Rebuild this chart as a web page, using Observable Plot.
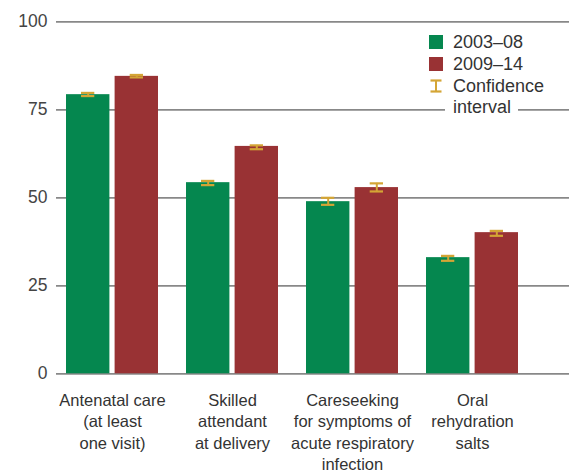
<!DOCTYPE html>
<html>
<head>
<meta charset="utf-8">
<script src="https://cdn.jsdelivr.net/npm/d3@7"></script>
<script src="https://cdn.jsdelivr.net/npm/@observablehq/plot@0.6"></script>
<style>
  body { margin: 0; background: #fff; }
  #wrap { position: relative; width: 569px; height: 470px; font-family: "Liberation Sans", Arial, sans-serif; }
  .lg { position: absolute; font-size: 18px; color: #333; line-height: 20px; white-space: nowrap; }
  .sw { position: absolute; width: 14px; height: 14px; }
</style>
</head>
<body>
<div id="wrap"></div>
<script>
const categories = [
  "Antenatal care (at least one visit)",
  "Skilled attendant at delivery",
  "Careseeking for symptoms of acute respiratory infection",
  "Oral rehydration salts"
];
const categoryLabels = [
  "Antenatal care\n(at least\none visit)",
  "Skilled\nattendant\nat delivery",
  "Careseeking\nfor symptoms of\nacute respiratory\ninfection",
  "Oral\nrehydration\nsalts"
];
const series = ["2003–08", "2009–14"];
const values2003 = [79.3, 54.3, 48.9, 33.0];
const values2009 = [84.5, 64.6, 52.9, 40.1];
const ciLow2003  = [78.9, 53.6, 48.0, 32.1];
const ciHigh2003 = [79.8, 54.8, 50.0, 33.5];
const ciLow2009  = [84.2, 63.8, 51.8, 39.2];
const ciHigh2009 = [84.9, 64.9, 54.1, 40.6];
const yTicks = [0, 25, 50, 75, 100];

const green = "#05874f";
const red = "#993234";
const gold = "#d4a535";

const rows2003 = categories.map((c, i) => ({category: c, value: values2003[i], lo: ciLow2003[i], hi: ciHigh2003[i]}));
const rows2009 = categories.map((c, i) => ({category: c, value: values2009[i], lo: ciLow2009[i], hi: ciHigh2009[i]}));
const labelOf = new Map(categories.map((c, i) => [c, categoryLabels[i]]));

const chart = Plot.plot({
  width: 569,
  height: 470,
  marginLeft: 56,
  marginRight: 0,
  marginTop: 21.3,
  marginBottom: 96.7,
  style: {fontFamily: "'Liberation Sans', Arial, sans-serif", background: "white", overflow: "visible"},
  x: {domain: categories, paddingInner: 0.233, paddingOuter: 0.238, align: 0.16, axis: null},
  y: {domain: [0, 100]},
  marks: [
    Plot.gridY(yTicks, {stroke: "#888", strokeOpacity: 1, strokeWidth: 1.7}),
    Plot.axisY(yTicks, {tickSize: 0, tickPadding: 9, fontSize: 17.5, color: "#444"}),
    Plot.barY(rows2003, {x: "category", y: "value", fill: green, insetRight: 48.6}),
    Plot.barY(rows2009, {x: "category", y: "value", fill: red, insetLeft: 48.6}),
    Plot.ruleX(rows2003, {x: "category", y1: "lo", y2: "hi", dx: -24.3, stroke: gold, strokeWidth: 2}),
    Plot.ruleX(rows2009, {x: "category", y1: "lo", y2: "hi", dx: 24.3, stroke: gold, strokeWidth: 2}),
    Plot.tickY(rows2003, {x: "category", y: "lo", insetLeft: 15, insetRight: 63.7, stroke: gold, strokeWidth: 2.2}),
    Plot.tickY(rows2003, {x: "category", y: "hi", insetLeft: 15, insetRight: 63.7, stroke: gold, strokeWidth: 2.2}),
    Plot.tickY(rows2009, {x: "category", y: "lo", insetLeft: 63.7, insetRight: 15, stroke: gold, strokeWidth: 2.2}),
    Plot.tickY(rows2009, {x: "category", y: "hi", insetLeft: 63.7, insetRight: 15, stroke: gold, strokeWidth: 2.2}),
    Plot.text(categories, {
      x: d => d,
      text: d => labelOf.get(d),
      frameAnchor: "bottom",
      lineAnchor: "top",
      dy: 16.5,
      lineHeight: 1.31,
      fontSize: 16.5,
      fill: "#333"
    })
  ]
});

const wrap = document.getElementById("wrap");
wrap.appendChild(chart);

// Legend overlay
const legend = [
  {type: "swatch", color: green, label: series[0], cy: 42},
  {type: "swatch", color: red, label: series[1], cy: 63.7}
];
legend.forEach(item => {
  const sw = document.createElement("div");
  sw.className = "sw";
  sw.style.left = "429px";
  sw.style.top = (item.cy - 7) + "px";
  sw.style.background = item.color;
  wrap.appendChild(sw);
  const t = document.createElement("div");
  t.className = "lg";
  t.style.left = "453px";
  t.style.top = (item.cy - 10) + "px";
  t.textContent = item.label;
  wrap.appendChild(t);
});
const icon = document.createElementNS("http://www.w3.org/2000/svg", "svg");
icon.setAttribute("width", "14");
icon.setAttribute("height", "14");
icon.style.position = "absolute";
icon.style.left = "429px";
icon.style.top = "78.5px";
icon.innerHTML = `<line x1="1.5" x2="12.5" y1="1.5" y2="1.5" stroke="${gold}" stroke-width="2.2"/>
<line x1="1.5" x2="12.5" y1="12.5" y2="12.5" stroke="${gold}" stroke-width="2.2"/>
<line x1="7" x2="7" y1="1.5" y2="12.5" stroke="${gold}" stroke-width="2"/>`;
wrap.appendChild(icon);
const c1 = document.createElement("div");
c1.className = "lg";
c1.style.left = "453px";
c1.style.top = "76px";
c1.textContent = "Confidence";
wrap.appendChild(c1);
const c2 = document.createElement("div");
c2.className = "lg";
c2.style.left = "445px";
c2.style.top = "97.3px";
c2.style.padding = "0 7px 0 8px";
c2.style.background = "#fff";
c2.textContent = "interval";
wrap.appendChild(c2);
</script>
</body>
</html>
